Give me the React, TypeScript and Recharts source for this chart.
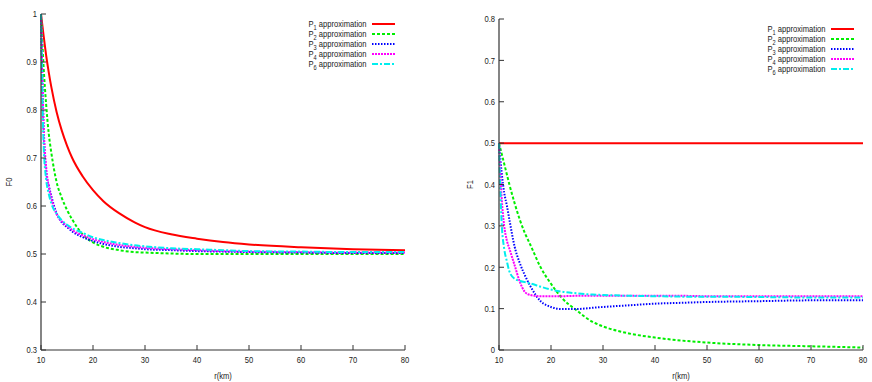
import { LineChart, Line, XAxis, YAxis, Legend } from 'recharts';

const R = [10, 10.5, 11, 11.5, 12, 13, 14, 15, 16, 18, 20, 22, 25, 28, 30, 35, 40, 45, 50, 60, 70, 80];

// F0
const F0_P1 = [1.0, 0.955, 0.913, 0.878, 0.847, 0.796, 0.757, 0.726, 0.7, 0.662, 0.633, 0.61, 0.585, 0.566, 0.556, 0.541, 0.532, 0.525, 0.52, 0.514, 0.51, 0.508];
const F0_P2 = [1.0, 0.89, 0.81, 0.75, 0.71, 0.65, 0.617, 0.592, 0.572, 0.541, 0.524, 0.515, 0.508, 0.504, 0.503, 0.501, 0.5, 0.5, 0.5, 0.5, 0.5, 0.5];
const F0_P3 = [1.0, 0.76, 0.67, 0.642, 0.62, 0.585, 0.566, 0.556, 0.547, 0.535, 0.527, 0.521, 0.515, 0.512, 0.51, 0.508, 0.506, 0.505, 0.504, 0.503, 0.502, 0.502];
const F0_P4 = [1.0, 0.77, 0.68, 0.64, 0.615, 0.583, 0.568, 0.558, 0.55, 0.539, 0.531, 0.525, 0.519, 0.515, 0.513, 0.51, 0.508, 0.506, 0.505, 0.504, 0.503, 0.503];
const F0_P6 = [1.0, 0.73, 0.655, 0.625, 0.605, 0.584, 0.57, 0.561, 0.554, 0.544, 0.535, 0.529, 0.523, 0.518, 0.516, 0.512, 0.51, 0.508, 0.506, 0.505, 0.504, 0.504];

// F1
const F1_P1 = [0.5, 0.5, 0.5, 0.5, 0.5, 0.5, 0.5, 0.5, 0.5, 0.5, 0.5, 0.5, 0.5, 0.5, 0.5, 0.5, 0.5, 0.5, 0.5, 0.5, 0.5, 0.5];
const F1_P2 = [0.5, 0.475, 0.45, 0.425, 0.4, 0.355, 0.315, 0.282, 0.255, 0.2, 0.16, 0.127, 0.095, 0.068, 0.057, 0.04, 0.03, 0.023, 0.018, 0.012, 0.009, 0.006];
const F1_P3 = [0.5, 0.43, 0.38, 0.35, 0.315, 0.25, 0.21, 0.18, 0.155, 0.118, 0.104, 0.099, 0.099, 0.102, 0.104, 0.108, 0.112, 0.114, 0.116, 0.118, 0.12, 0.12];
const F1_P4 = [0.5, 0.37, 0.3, 0.265, 0.245, 0.205, 0.165, 0.14, 0.133, 0.13, 0.13, 0.13, 0.131, 0.131, 0.131, 0.131, 0.131, 0.131, 0.13, 0.13, 0.13, 0.13];
const F1_P6 = [0.5, 0.31, 0.245, 0.215, 0.19, 0.172, 0.167, 0.164, 0.161, 0.153, 0.146, 0.141, 0.137, 0.134, 0.133, 0.131, 0.13, 0.129, 0.129, 0.128, 0.127, 0.127];

const X_TICKS = [10, 20, 30, 40, 50, 60, 70, 80];
const F0_TICKS = [0.3, 0.4, 0.5, 0.6, 0.7, 0.8, 0.9, 1];
const F1_TICKS = [0, 0.1, 0.2, 0.3, 0.4, 0.5, 0.6, 0.7, 0.8];

const SERIES = [
  { key: 'p1', sub: '1', color: '#ff0000', dash: undefined as string | undefined },
  { key: 'p2', sub: '2', color: '#00ee00', dash: '3 2' },
  { key: 'p3', sub: '3', color: '#0000ff', dash: '1.5 1.5' },
  { key: 'p4', sub: '4', color: '#ff00ff', dash: '2 1' },
  { key: 'p6', sub: '6', color: '#00eeee', dash: '6 2 2 2' },
];

const f0Data = R.map((r, i) => ({ r, p1: F0_P1[i], p2: F0_P2[i], p3: F0_P3[i], p4: F0_P4[i], p6: F0_P6[i] }));
const f1Data = R.map((r, i) => ({ r, p1: F1_P1[i], p2: F1_P2[i], p3: F1_P3[i], p4: F1_P4[i], p6: F1_P6[i] }));

const FONT = "'Liberation Sans', Arial, Helvetica, sans-serif";
const FS = 9.5;
const SQUEEZE = 0.8; // gnuplot's helvetica renders narrow
const AXIS = '#333';
const TXT = '#222';

const BottomTick = ({ x, y, payload }: any) => (
  <g>
    <line x1={x} x2={x} y1={y - 10} y2={y - 15} stroke={AXIS} strokeWidth={1} />
    <text transform={`translate(${x} ${y}) scale(${SQUEEZE} 1)`} dy="0.35em" textAnchor="middle" fontSize={FS} fontFamily={FONT} fill={TXT}>
      {payload.value}
    </text>
  </g>
);

const LeftTick = ({ x, y, payload }: any) => (
  <g>
    <line x1={x + 4} x2={x + 9} y1={y} y2={y} stroke={AXIS} strokeWidth={1} />
    <text transform={`translate(${x} ${y}) scale(${SQUEEZE} 1)`} dy="0.35em" textAnchor="end" fontSize={FS} fontFamily={FONT} fill={TXT}>
      {payload.value}
    </text>
  </g>
);

const TopTick = ({ x, y }: any) => <line x1={x} x2={x} y1={y} y2={y + 5} stroke={AXIS} strokeWidth={1} />;
const RightTick = ({ x, y }: any) => <line x1={x - 5} x2={x} y1={y} y2={y} stroke={AXIS} strokeWidth={1} />;

function LegendBox({ payload }: any) {
  return (
    <div style={{ fontFamily: FONT, fontSize: FS, color: TXT }}>
      {(payload || []).map((p: any) => {
        const s = SERIES.find((d) => d.key === p.dataKey)!;
        return (
          <div key={s.key} style={{ height: 10, lineHeight: '10px', display: 'flex', justifyContent: 'flex-end', alignItems: 'center' }}>
            <span style={{ display: 'inline-block', whiteSpace: 'nowrap', transform: `scaleX(${SQUEEZE})`, transformOrigin: 'right center' }}>
              P<span style={{ fontSize: 7, position: 'relative', top: 3 }}>{s.sub}</span> approximation
            </span>
            <svg width={23} height={4} style={{ marginLeft: 5 }}>
              <line x1={0} x2={23} y1={2} y2={2} stroke={s.color} strokeWidth={2} strokeDasharray={s.dash} />
            </svg>
          </div>
        );
      })}
    </div>
  );
}

interface PanelProps {
  data: any[];
  width: number;
  yWidth: number;
  top: number;
  right: number;
  domain: [number, number];
  yTicks: number[];
  yName: string;
  yLabelX: number;
  legendLeft: number;
  legendTop: number;
}

function Panel({ data, width, yWidth, top, right, domain, yTicks, yName, yLabelX, legendLeft, legendTop }: PanelProps) {
  return (
    <LineChart width={width} height={382} data={data} margin={{ top, right, bottom: 0, left: 0 }}>
      <XAxis
        dataKey="r"
        type="number"
        domain={[10, 80]}
        ticks={X_TICKS}
        interval={0}
        height={32}
        tickSize={0}
        tickMargin={10}
        tickLine={false}
        axisLine={{ stroke: AXIS, strokeWidth: 1.2 }}
        tick={<BottomTick />}
        label={(props: any) => {
          const vb = props.viewBox;
          const cx = vb.x + vb.width / 2;
          const cy = vb.y + 26;
          return (
            <text transform={`translate(${cx} ${cy}) scale(${SQUEEZE} 1)`} dy="0.35em" textAnchor="middle" fontSize={FS} fontFamily={FONT} fill={TXT}>
              r(km)
            </text>
          );
        }}
      />
      <XAxis
        xAxisId="top"
        orientation="top"
        dataKey="r"
        type="number"
        domain={[10, 80]}
        ticks={X_TICKS}
        interval={0}
        height={0}
        tickSize={0}
        tickMargin={0}
        tickLine={false}
        axisLine={{ stroke: AXIS, strokeWidth: 1.2 }}
        tick={<TopTick />}
      />
      <YAxis
        type="number"
        domain={domain}
        ticks={yTicks}
        interval={0}
        allowDataOverflow
        width={yWidth}
        tickSize={0}
        tickMargin={4}
        tickLine={false}
        axisLine={{ stroke: AXIS, strokeWidth: 1.2 }}
        tick={<LeftTick />}
        label={(props: any) => {
          const vb = props.viewBox;
          const cy = vb.y + vb.height / 2;
          return (
            <text transform={`translate(${yLabelX} ${cy}) rotate(-90) scale(${SQUEEZE} 1)`} dy="0.35em" textAnchor="middle" fontSize={FS} fontFamily={FONT} fill={TXT}>
              {yName}
            </text>
          );
        }}
      />
      <YAxis
        yAxisId="right"
        orientation="right"
        type="number"
        domain={domain}
        ticks={yTicks}
        interval={0}
        width={0}
        tickSize={0}
        tickMargin={0}
        tickLine={false}
        axisLine={{ stroke: AXIS, strokeWidth: 1.2 }}
        tick={<RightTick />}
      />
      <Legend
        layout="horizontal"
        verticalAlign="middle"
        align="center"
        width={150}
        wrapperStyle={{ left: legendLeft, top: legendTop }}
        content={<LegendBox />}
      />
      {SERIES.map((s) => (
        <Line
          key={s.key}
          dataKey={s.key}
          type="monotone"
          stroke={s.color}
          strokeWidth={2}
          strokeDasharray={s.dash}
          dot={false}
          isAnimationActive={false}
        />
      ))}
    </LineChart>
  );
}

export default function App() {
  return (
    <div style={{ position: 'absolute', left: 0, top: 0, width: 872, height: 382, background: '#fff', overflow: 'hidden' }}>
      <div style={{ position: 'absolute', left: 0, top: 0 }}>
        <Panel data={f0Data} width={420} yWidth={41} top={14} right={15} domain={[0.3, 1]} yTicks={F0_TICKS} yName="F0" yLabelX={9} legendLeft={245} legendTop={19} />
      </div>
      <div style={{ position: 'absolute', left: 440, top: 0 }}>
        <Panel data={f1Data} width={432} yWidth={59} top={19} right={9} domain={[0, 0.8]} yTicks={F1_TICKS} yName="F1" yLabelX={30} legendLeft={264} legendTop={24} />
      </div>
    </div>
  );
}
